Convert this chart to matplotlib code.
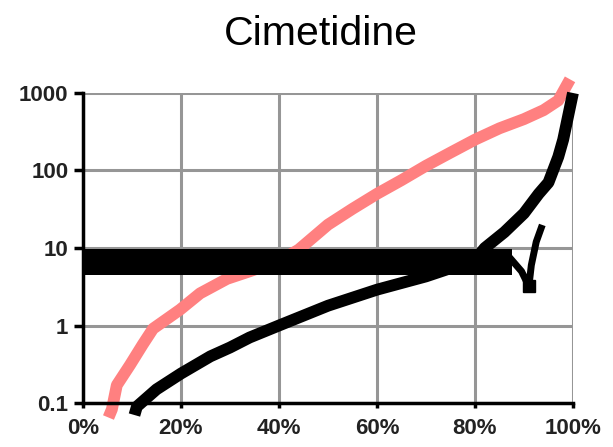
import matplotlib
matplotlib.use("Agg")
import matplotlib.pyplot as plt

title = "Cimetidine"
x_ticks = [0.0, 0.2, 0.4, 0.6, 0.8, 1.0]
x_labels = ["0%", "20%", "40%", "60%", "80%", "100%"]
y_ticks = [0.1, 1, 10, 100, 1000]
y_labels = ["0.1", "1", "10", "100", "1000"]

# pink series
pink_x = [0.052, 0.059, 0.069, 0.096, 0.122, 0.143, 0.17, 0.198, 0.239, 0.294, 0.34, 0.40, 0.44,
          0.50, 0.55, 0.60, 0.65, 0.70, 0.75, 0.80, 0.85, 0.90, 0.94, 0.97, 0.994]
pink_y = [0.065, 0.083, 0.17, 0.31, 0.57, 0.91, 1.2, 1.6, 2.6, 4.0, 5.0, 6.8, 9.5,
          20, 32, 50, 75, 115, 170, 250, 350, 460, 600, 800, 1500]

# lower black series
low_x = [0.105, 0.11, 0.15, 0.20, 0.26, 0.30, 0.34, 0.40, 0.50, 0.60, 0.70, 0.80, 0.82,
         0.86, 0.90, 0.93, 0.95, 0.97, 0.98, 0.99, 1.0]
low_y = [0.07, 0.09, 0.15, 0.24, 0.40, 0.52, 0.70, 1.0, 1.8, 2.9, 4.3, 7.0, 10,
         16, 28, 50, 70, 150, 250, 500, 1000]

# dense band of black points (lower / upper edge)
band_x = [0.0, 0.875]
band_low = [4.5, 4.5]
band_high = [9.8, 9.8]

# spike at the right end of the band
spike_x = [0.875, 0.895, 0.91, 0.915, 0.925, 0.935]
spike_y = [7.0, 5.0, 3.2, 6.0, 12, 18]

fig = plt.figure(figsize=(6.13, 4.47), dpi=100)
ax = fig.add_axes([0.1354, 0.0984, 0.7993, 0.6936])
ax.set_yscale("log")
ax.set_xlim(0, 1)
ax.set_ylim(0.1, 1000)

ax.grid(True, which="major", color="#969696", linewidth=2.2)
ax.set_axisbelow(True)

ax.fill_between(band_x, band_low, band_high, color="black", linewidth=0, zorder=3)
ax.plot(low_x, low_y, color="black", linewidth=8.5, solid_capstyle="butt",
        solid_joinstyle="round", zorder=4, clip_on=False)
ax.plot(spike_x, spike_y, color="black", linewidth=5, zorder=4, clip_on=False)
ax.plot(spike_x[2:3], spike_y[2:3], marker="s", markersize=9, color="black", linestyle="none", zorder=4)
ax.plot(pink_x, pink_y, color="#FF8080", linewidth=8.5, solid_capstyle="butt",
        solid_joinstyle="round", zorder=2, clip_on=False)

ax.set_xticks(x_ticks)
ax.set_xticklabels(x_labels)
ax.set_yticks(y_ticks)
ax.set_yticklabels(y_labels)
ax.minorticks_off()

for side in ["top", "right"]:
    ax.spines[side].set_visible(False)
for side in ["left", "bottom"]:
    ax.spines[side].set_linewidth(2.5)
    ax.spines[side].set_color("black")
    ax.spines[side].set_zorder(5)

ax.tick_params(axis="y", length=6.5, width=2.5, pad=4, labelsize=16)
ax.tick_params(axis="x", length=3.5, width=2.5, pad=7, labelsize=16)
for lab in ax.get_xticklabels() + ax.get_yticklabels():
    lab.set_fontfamily("Liberation Sans")
    lab.set_fontweight("bold")
    lab.set_color("#222222")

fig.text(0.523, 0.925, title, ha="center", va="center", fontsize=29.5, family="Liberation Sans", color="black")

fig.savefig("out.png", dpi=100)
